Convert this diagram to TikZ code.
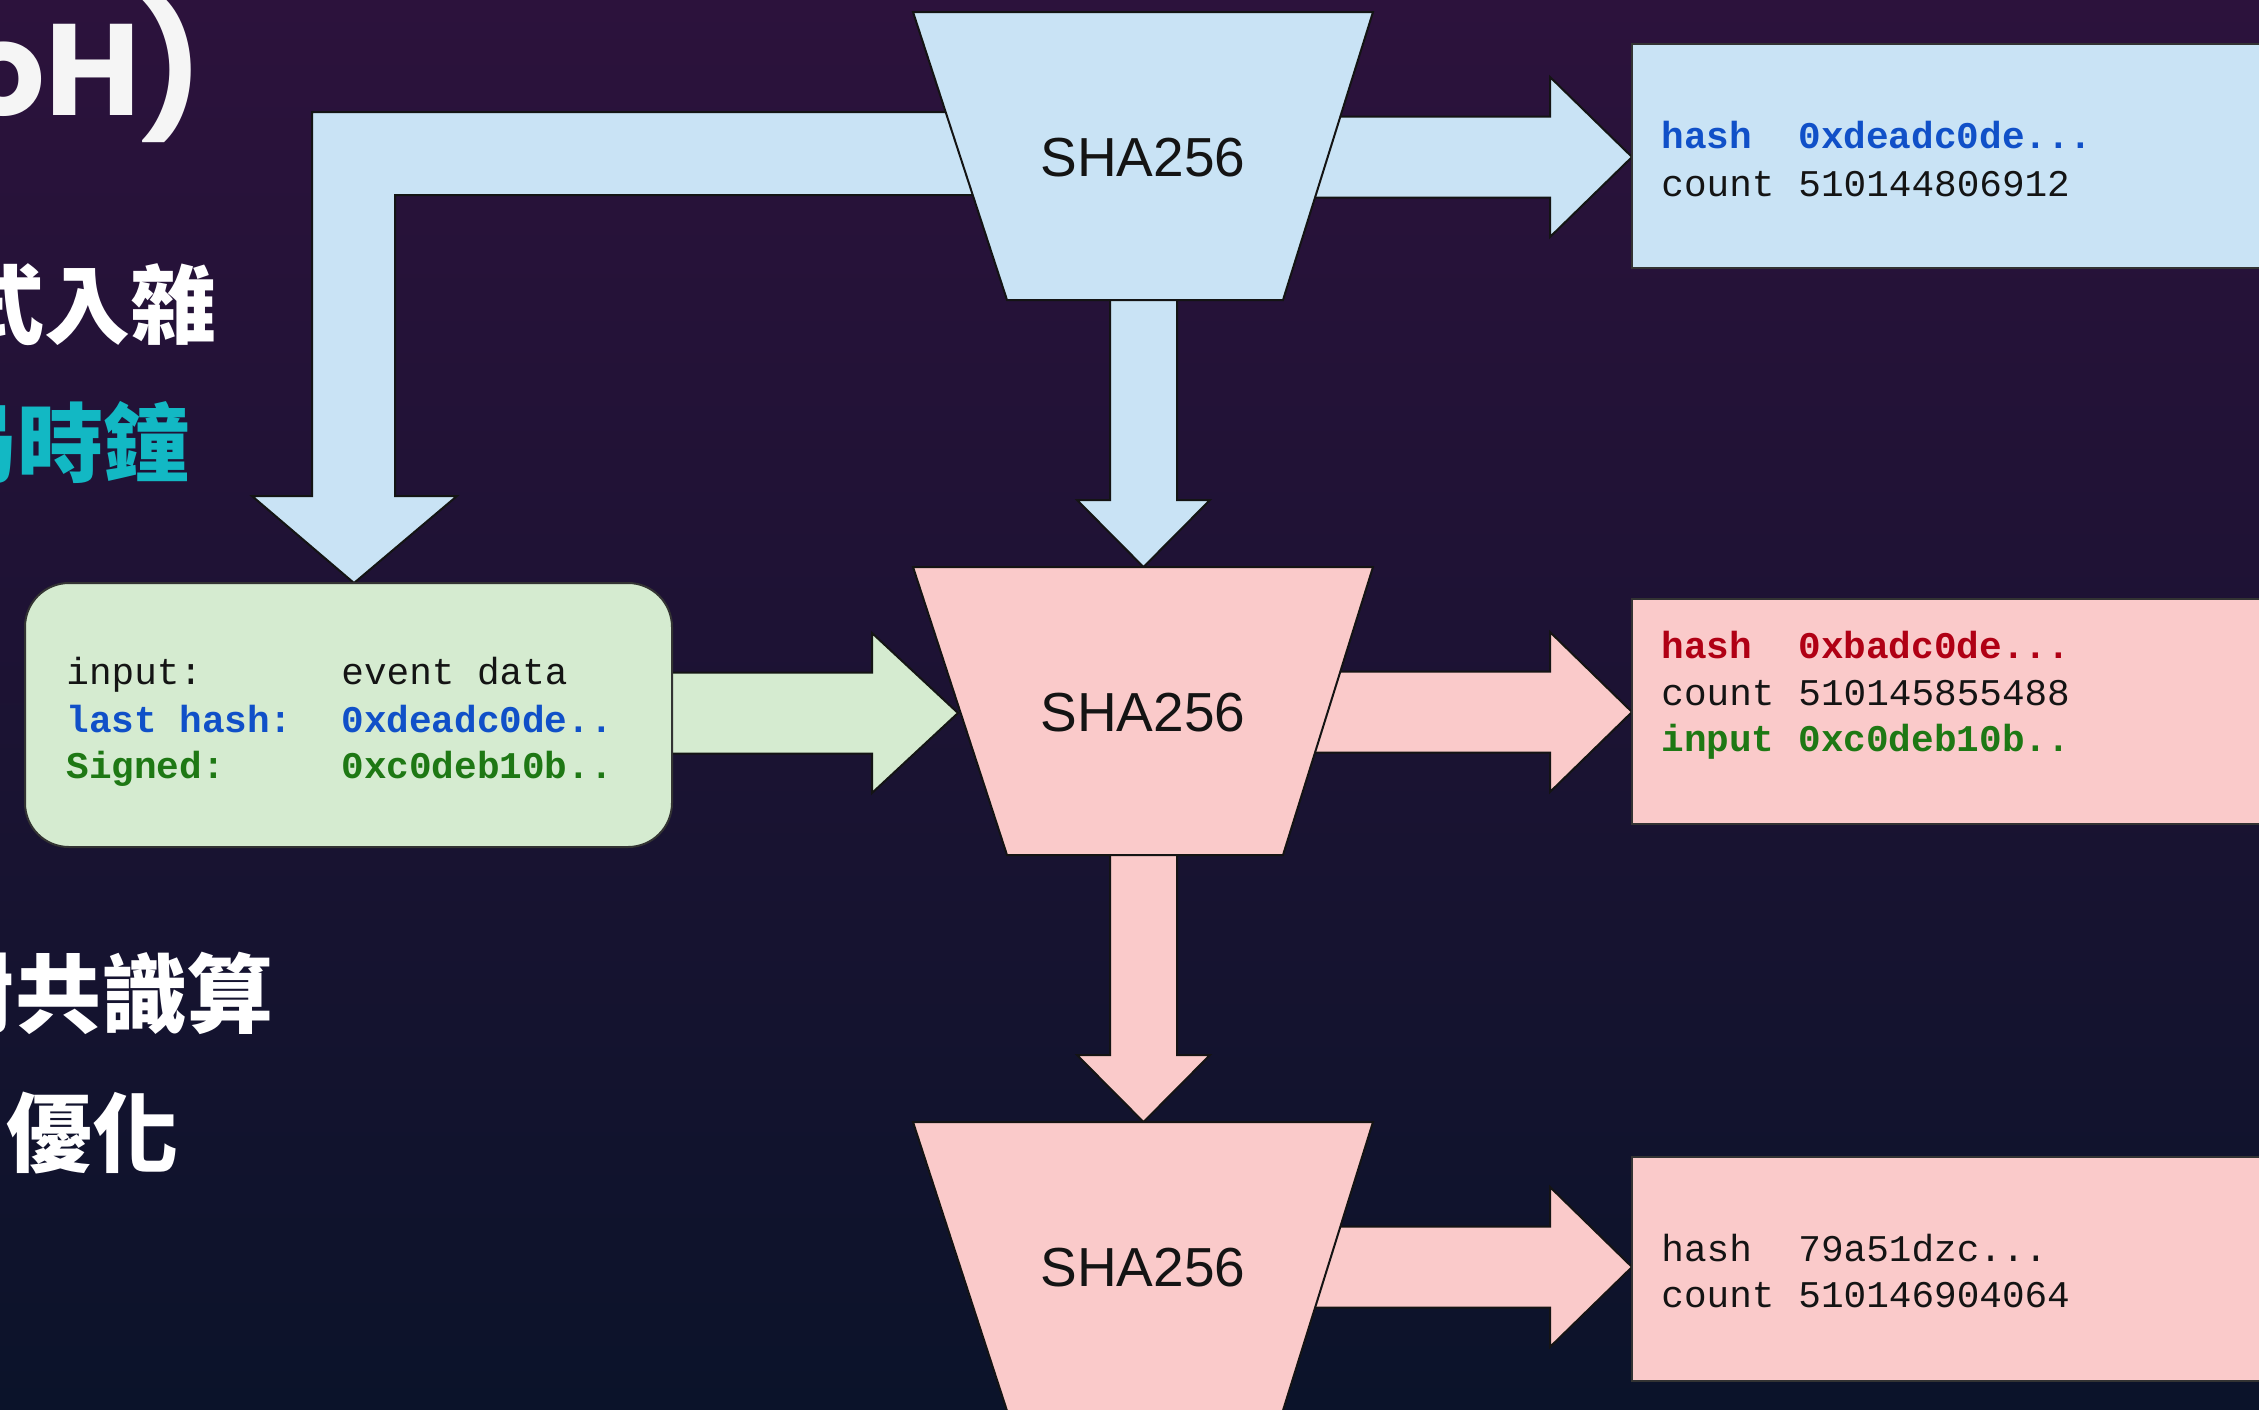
\documentclass[tikz,border=0pt]{standalone}
\usepackage{fontspec}
\setmainfont{Liberation Sans}
\newfontfamily\codefont{Liberation Mono}
\newfontfamily\cjkfont{Noto Sans CJK TC}
\newfontfamily\titlefont{Poppins}
\definecolor{bgtop}{RGB}{44,18,60}
\definecolor{bgmid}{RGB}{26,21,52}
\definecolor{bgbot}{RGB}{11,19,42}
\definecolor{blueF}{RGB}{201,227,245}
\definecolor{pinkF}{RGB}{250,202,202}
\definecolor{greenF}{RGB}{213,235,208}
\definecolor{blueT}{RGB}{16,80,200}
\definecolor{redT}{RGB}{176,0,20}
\definecolor{greenT}{RGB}{30,120,20}
\definecolor{cyanT}{RGB}{18,184,196}
\definecolor{inkT}{RGB}{20,20,20}
% right block arrow: x0, xbase, xtip, yc, half shaft, half head
\newcommand\rblock[7]{%
  \filldraw[blk,fill=#7] ({#1},{#4-#5}) -- ({#2},{#4-#5}) -- ({#2},{#4-#6}) -- ({#3},{#4}) -- ({#2},{#4+#6}) -- ({#2},{#4+#5}) -- ({#1},{#4+#5}) -- cycle;}
% down block arrow: xc, y0, ybase, ytip, half shaft, half head
\newcommand\dblock[7]{%
  \filldraw[blk,fill=#7] ({#1-#5},{#2}) -- ({#1-#5},{#3}) -- ({#1-#6},{#3}) -- ({#1},{#4}) -- ({#1+#6},{#3}) -- ({#1+#5},{#3}) -- ({#1+#5},{#2}) -- cycle;}
% trapezoid: top y, fill
\newcommand\shabox[2]{%
  \filldraw[blk,fill=#2] (913,{#1}) -- (1373,{#1}) -- (1283,{#1+288}) -- (1007,{#1+288}) -- cycle;}
\tikzset{
  blk/.style={draw=black!92, line width=1pt, line join=miter},
  rbox/.style={draw=black!80, line width=1pt},
  code/.style={font=\codefont\fontsize{18.85pt}{22pt}\selectfont, anchor=base west, inner sep=0pt, text=inkT},
  codeb/.style={font=\codefont\fontsize{18.85pt}{22pt}\selectfont\bfseries, anchor=base west, inner sep=0pt},
  shatext/.style={font=\fontsize{27.5pt}{33pt}\selectfont, text=inkT, inner sep=0pt},
  cjk/.style={font=\cjkfont\fontsize{43pt}{50pt}\selectfont\bfseries, anchor=base west, inner sep=0pt},
}
\begin{document}
\begin{tikzpicture}[x=0.5pt,y=-0.5pt]
\useasboundingbox (0,0) rectangle (2259,1409);
\shade[top color=bgtop, middle color=bgmid, bottom color=bgbot] (0,0) rectangle (2259,1409);

% left title texts
\node[font=\titlefont\fontsize{65pt}{70pt}\selectfont\bfseries, text=white!96!black, anchor=base west, inner sep=0pt] (title) at (-38,115) {oH)};
\node[cjk, text=white] (b1) at (-42,337) {式入雜};
\node[cjk, text=cyanT] (b2) at (-69,475) {局時鐘};
\node[cjk, text=white] (b3) at (-71,1026) {對共識算};
\node[cjk, text=white] (b4) at (6,1165) {優化};

% bent feedback arrow
\filldraw[blk,fill=blueF] (1000,112) -- (312,112) -- (312,496) -- (252,496) -- (354,583) -- (457,496) -- (395,496) -- (395,195) -- (1000,195) -- cycle;

% right arrows
\rblock{1300}{1550}{1632}{157}{40.5}{80}{blueF}
\rblock{1300}{1550}{1632}{712}{40.5}{80}{pinkF}
\rblock{1300}{1550}{1632}{1267}{40.5}{80}{pinkF}
% down arrows
\dblock{1143.5}{290}{500}{567}{33.5}{66.5}{blueF}
\dblock{1143.5}{845}{1055}{1122}{33.5}{66.5}{pinkF}
% green input arrow
\rblock{660}{872}{958}{713}{40.5}{80}{greenF}

% SHA256 trapezoids
\shabox{12}{blueF}
\shabox{567}{pinkF}
\filldraw[blk,fill=pinkF] (913,1122) -- (1373,1122) -- (1280,1420) -- (1010,1420) -- cycle;
\node[shatext] (s1) at (1143,158) {SHA256};
\node[shatext] (s2) at (1143,713) {SHA256};
\node[shatext] (s3) at (1143,1268) {SHA256};

% green input box
\filldraw[rbox,fill=greenF,rounded corners=22pt] (25,583) rectangle (672,847);
\node[code] (g1a) at (66,684) {input:};
\node[code] (g1b) at (341,684) {event data};
\node[codeb,text=blueT] (g2a) at (66,732) {last hash:};
\node[codeb,text=blueT] (g2b) at (341,732) {0xdeadc0de..};
\node[codeb,text=greenT] (g3a) at (66,778) {Signed:};
\node[codeb,text=greenT] (g3b) at (341,778) {0xc0deb10b..};

% output boxes
\filldraw[rbox,fill=blueF] (1632,44) rectangle (2300,268);
\filldraw[rbox,fill=pinkF] (1632,599) rectangle (2300,824);
\filldraw[rbox,fill=pinkF] (1632,1157) rectangle (2300,1381);

\node[codeb,text=blueT] (o1a) at (1661,148) {hash};
\node[codeb,text=blueT] (o1b) at (1798,148) {0xdeadc0de...};
\node[code] (o1c) at (1661,196) {count};
\node[code] (o1d) at (1798,196) {510144806912};

\node[codeb,text=redT] (o2a) at (1661,658) {hash};
\node[codeb,text=redT] (o2b) at (1798,658) {0xbadc0de...};
\node[code] (o2c) at (1661,705) {count};
\node[code] (o2d) at (1798,705) {510145855488};
\node[codeb,text=greenT] (o2e) at (1661,751) {input};
\node[codeb,text=greenT] (o2f) at (1798,751) {0xc0deb10b..};

\node[code] (o3a) at (1661,1261) {hash};
\node[code] (o3b) at (1798,1261) {79a51dzc...};
\node[code] (o3c) at (1661,1307) {count};
\node[code] (o3d) at (1798,1307) {510146904064};
\end{tikzpicture}
\end{document}
